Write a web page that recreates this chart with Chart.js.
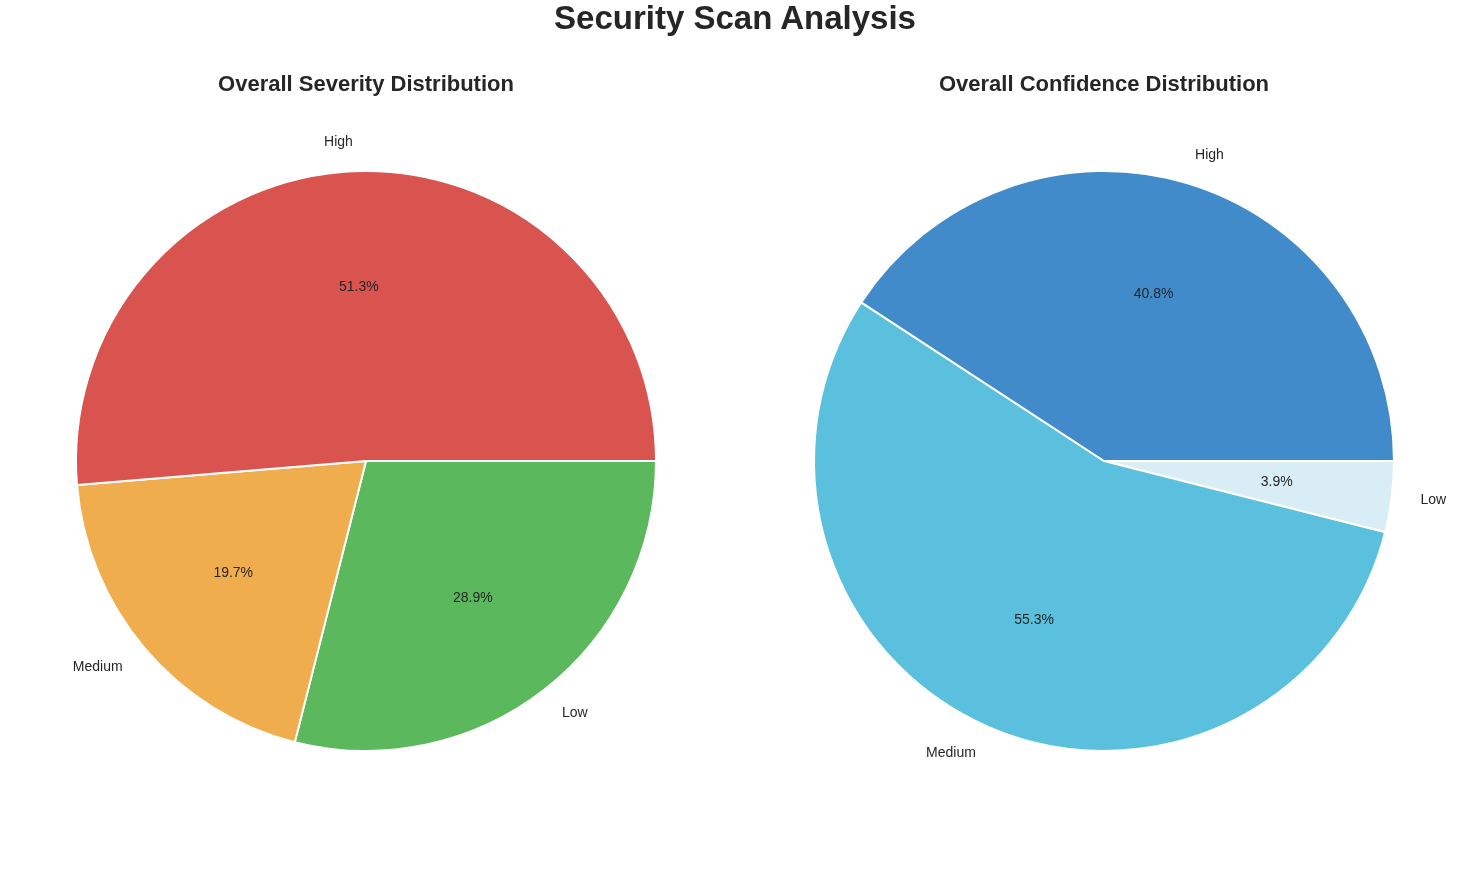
<!DOCTYPE html>
<html>
<head>
<meta charset="utf-8">
<script src="https://cdn.jsdelivr.net/npm/chart.js@4"></script>
<style>
  html, body { margin: 0; padding: 0; background: #fff; }
  body { width: 1470px; height: 883px; position: relative; overflow: hidden;
         font-family: "Liberation Sans", Arial, Helvetica, sans-serif; color: #262626; }
  .t { position: absolute; font-weight: bold; text-align: center; white-space: nowrap; z-index: 2; }
  #main { left: 0; width: 1470px; top: -1px; font-size: 33px; line-height: 38px; }
  #t1 { left: 66px; width: 600px; top: 70px; font-size: 22px; line-height: 28px; }
  #t2 { left: 804px; width: 600px; top: 70px; font-size: 22px; line-height: 28px; }
  canvas { position: absolute; top: 0; }
  #c1 { left: 0px; }
  #c2 { left: 735px; }
</style>
</head>
<body>
<div class="t" id="main">Security Scan Analysis</div>
<div class="t" id="t1">Overall Severity Distribution</div>
<div class="t" id="t2">Overall Confidence Distribution</div>
<canvas id="c1" width="735" height="883"></canvas>
<canvas id="c2" width="735" height="883"></canvas>
<script>
// Data (matplotlib order: counterclockwise from 3 o'clock)
const categories = ["High", "Medium", "Low"];
const severityCounts = [39, 15, 22];
const confidenceCounts = [31, 42, 3];
const severityColors = ["#d9534f", "#f0ad4e", "#5cb85c"];
const confidenceColors = ["#428bca", "#5bc0de", "#d9edf7"];

// Chart.js draws clockwise, so reverse to mimic counterclockwise drawing from east
function rev(a) { return a.slice().reverse(); }

const labelPlugin = {
  id: 'pieLabels',
  afterDatasetsDraw(chart) {
    const ctx = chart.ctx;
    const meta = chart.getDatasetMeta(0);
    const data = chart.data.datasets[0].data;
    const total = data.reduce((a, b) => a + b, 0);
    ctx.save();
    ctx.fillStyle = '#262626';
    ctx.font = '14px "Liberation Sans", Arial, sans-serif';
    ctx.textBaseline = 'middle';
    meta.data.forEach((arc, i) => {
      const p = arc.getProps(['x', 'y', 'startAngle', 'endAngle', 'outerRadius'], true);
      const mid = (p.startAngle + p.endAngle) / 2;
      const c = Math.cos(mid), s = Math.sin(mid);
      const lx = p.x + 1.1 * p.outerRadius * c;
      const ly = p.y + 1.1 * p.outerRadius * s;
      ctx.textAlign = c > 0 ? 'left' : 'right';
      ctx.fillText(chart.data.labels[i], lx, ly);
      const px = p.x + 0.6 * p.outerRadius * c;
      const py = p.y + 0.6 * p.outerRadius * s;
      ctx.textAlign = 'center';
      ctx.fillText((100 * data[i] / total).toFixed(1) + '%', px, py);
    });
    ctx.restore();
  }
};

function makePie(id, values, colors, padLeft, padRight) {
  new Chart(document.getElementById(id), {
    type: 'pie',
    data: {
      labels: rev(categories),
      datasets: [{
        data: rev(values),
        backgroundColor: rev(colors),
        borderColor: '#ffffff',
        borderWidth: 2,
        hoverOffset: 0
      }]
    },
    options: {
      responsive: false,
      animation: false,
      events: [],
      rotation: 90,
      layout: { padding: { left: padLeft, right: padRight, top: 170, bottom: 131 } },
      plugins: { legend: { display: false }, tooltip: { enabled: false }, title: { display: false } }
    },
    plugins: [labelPlugin]
  });
}

makePie('c1', severityCounts, severityColors, 75, 78);
makePie('c2', confidenceCounts, confidenceColors, 78, 75);
</script>
</body>
</html>
